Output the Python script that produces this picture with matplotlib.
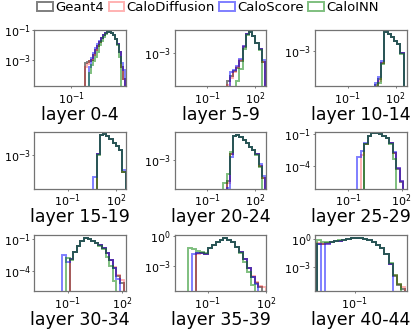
import numpy as np
import matplotlib
matplotlib.use("Agg")
import matplotlib.pyplot as plt
from matplotlib.ticker import NullLocator

nan = np.nan

layers = ["layer 0-4", "layer 5-9", "layer 10-14",
          "layer 15-19", "layer 20-24", "layer 25-29",
          "layer 30-34", "layer 35-39", "layer 40-44"]
models = ["Geant4", "CaloDiffusion", "CaloScore", "CaloINN"]

# log10 of the first bin edge and log10 bin width, per layer group
bin_start = [-0.3, 0.2, 0.7, 0.6, 0.0, -0.5, -1.3, -2.0, -2.8]
bin_width = [0.1, 0.2, 0.2, 0.2, 0.2, 0.2, 0.2, 0.2, 0.2]

# log10 of normalised counts per bin (nan = empty bin)
geant4 = [
    [-3.2, -3.15, -3.1, -3.0, -2.7, -2.35, -2.05, -1.8, -1.55, -1.35, -1.22, -1.12, -1.1, -1.2, -1.35, -1.6, -1.95, -2.5, -3.5, -4.3],
    [-4.6, -4.3, -4.0, -3.85, -3.45, -2.65, -1.95, -1.8, -2.05, -2.45, -2.8, -3.5],
    [-4.8, -4.5, -3.6, -1.95, -2.05, -2.25, -2.45, -2.6, -3.1],
    [nan, -2.9, -1.85, -1.8, -1.95, -2.1, -2.3, -2.5, -2.7, -3.9],
    [nan, -4.2, -2.6, -1.55, -1.5, -1.62, -1.8, -2.0, -2.2, -2.4, -2.65, -3.3, -4.0],
    [nan, nan, -2.0, -1.2, -0.95, -0.95, -1.05, -1.2, -1.45, -1.9, -2.8, -4.3, -5.5],
    [nan, nan, -2.9, -2.3, -1.7, -1.2, -0.92, -1.05, -1.2, -1.45, -1.6, -1.9, -2.4, -3.0, -3.8, -4.5, -5.2],
    [nan, nan, -1.75, -1.7, -1.8, -1.25, -0.9, -0.6, -0.4, -0.25, -0.4, -0.65, -1.1, -1.6, -2.3, -3.2, -4.1, -4.8, -5.2, nan],
    [-0.6, -0.5, -0.45, -0.35, -0.27, -0.2, -0.1, -0.03, 0.05, 0.1, 0.08, 0.0, -0.12, -0.35, -0.65, -1.0, -1.6, -2.7, -3.9, -4.9, -5.3],
]
calo_diffusion = [
    [-3.5, -3.3, -3.1, -3.0, -2.7, -2.35, -2.05, -1.8, -1.55, -1.35, -1.22, -1.12, -1.1, -1.2, -1.35, -1.6, -1.95, -2.5, -3.5, -4.3],
    [-4.8, -4.4, -4.1, -3.8, -3.4, -2.6, -1.95, -1.8, -2.05, -2.45, -2.8, -3.5],
    [nan, -4.6, -3.6, -1.95, -2.05, -2.25, -2.45, -2.6, -3.1],
    [nan, -2.9, -1.85, -1.8, -1.95, -2.1, -2.3, -2.5, -2.7, -3.9],
    [nan, -4.3, -2.6, -1.55, -1.5, -1.62, -1.8, -2.0, -2.2, -2.4, -2.65, -3.3, -4.0],
    [nan, -3.0, -2.0, -1.2, -0.95, -0.95, -1.05, -1.2, -1.45, -1.9, -2.8, -4.2, -5.4],
    [nan, nan, -2.9, -2.3, -1.7, -1.2, -0.92, -1.05, -1.2, -1.45, -1.6, -1.9, -2.4, -3.0, -3.7, -4.4, -4.9],
    [nan, nan, -1.8, -1.7, -1.8, -1.25, -0.9, -0.6, -0.4, -0.25, -0.4, -0.65, -1.1, -1.6, -2.3, -3.2, -4.0, -4.7, -5.1, -5.2],
    [-0.45, -0.6, -0.5, -0.35, -0.27, -0.2, -0.1, -0.03, 0.05, 0.1, 0.08, 0.0, -0.12, -0.35, -0.65, -1.0, -1.6, -2.7, -3.8, -4.8, -5.1],
]
calo_score = [
    [nan, nan, -3.5, -2.9, -2.55, -2.2, -1.95, -1.7, -1.5, -1.3, -1.2, -1.1, -1.1, -1.2, -1.35, -1.6, -1.95, -2.45, -3.2, -3.7],
    [nan, -4.1, -3.95, -3.75, -3.35, -2.6, -1.95, -1.8, -2.05, -2.45, -2.8, -3.4],
    [-4.7, -4.4, -3.5, -1.95, -2.05, -2.25, -2.45, -2.6, -3.1],
    [-4.2, -2.9, -1.85, -1.8, -1.95, -2.1, -2.3, -2.5, -2.7, -3.8],
    [nan, -4.6, -2.8, -1.55, -1.5, -1.62, -1.8, -2.0, -2.2, -2.4, -2.65, -3.2, -3.9],
    [-3.2, -2.6, -1.9, -1.2, -0.95, -0.95, -1.05, -1.2, -1.45, -1.9, -2.7, -4.2, -5.4],
    [-2.5, -3.2, -2.9, -2.3, -1.7, -1.2, -0.92, -1.05, -1.2, -1.45, -1.6, -1.9, -2.4, -3.0, -3.8, -4.8, nan],
    [nan, -1.8, -1.75, -1.7, -1.8, -1.25, -0.9, -0.6, -0.4, -0.25, -0.4, -0.65, -1.1, -1.6, -2.3, -3.2, -4.1, -4.9, nan, nan],
    [-0.5, nan, -0.5, -0.35, -0.27, -0.2, -0.1, -0.03, 0.05, 0.1, 0.08, 0.0, -0.12, -0.35, -0.65, -1.0, -1.6, -2.7, nan, nan, nan],
]
calo_inn = [
    [nan, nan, -3.9, -3.4, -3.1, -2.8, -2.45, -2.0, -1.7, -1.45, -1.25, -1.12, -1.1, -1.2, -1.35, -1.6, -2.0, -2.8, nan, nan],
    [nan, nan, nan, -4.6, -3.9, -2.8, -2.0, -1.8, -2.05, -2.45, -2.85, nan],
    [nan, -4.7, -3.7, -1.95, -2.05, -2.25, -2.45, -2.6, -3.15],
    [nan, -3.0, -1.85, -1.8, -1.95, -2.1, -2.3, -2.5, -2.7, -3.9],
    [-4.3, -3.8, -2.5, -1.55, -1.5, -1.62, -1.8, -2.0, -2.2, -2.4, -2.7, -3.4, nan],
    [nan, nan, -2.0, -1.2, -0.95, -0.95, -1.05, -1.2, -1.45, -2.0, -3.3, nan, nan],
    [nan, -2.8, -3.0, -2.3, -1.7, -1.2, -0.92, -1.05, -1.2, -1.45, -1.65, -2.0, -2.7, -3.6, -5.0, nan, nan],
    [-1.25, -1.3, -1.5, -1.6, -1.7, -1.25, -0.9, -0.6, -0.4, -0.25, -0.4, -0.65, -1.1, -1.7, -2.6, -3.6, -5.0, nan, nan, nan],
    [-0.07, -0.3, -0.35, -0.3, -0.22, -0.15, -0.08, -0.03, 0.05, 0.1, 0.08, 0.0, -0.12, -0.35, -0.65, -1.0, -1.6, -2.6, -3.8, -4.8, nan],
]
all_series = [geant4, calo_diffusion, calo_score, calo_inn]

# axis ranges and ticks (log10)
x_range = [(-2.87, 1.75), (-3.04, 2.69), (-3.04, 2.69), (-3.09, 2.64), (-3.04, 2.69),
           (-2.87, 2.28), (-2.86, 2.24), (-2.71, 2.01), (-2.9, 1.46)]
y_range = [(-4.83, -0.95), (-4.9, -1.68), (-4.88, -1.83), (-4.85, -1.71), (-4.66, -1.34),
           (-6.1, -0.86), (-5.97, -0.62), (-5.6, 0.1), (-5.6, 0.46)]
x_ticks = [[-1], [-1, 2], [-1, 2], [-1, 2], [-1, 2], [-1, 2], [-1, 2], [-1, 2], [-1]]
y_ticks = [[-1, -3], [-3], [-3], [-3], [-3], [-1, -4], [-1, -4], [0, -3], [0, -3]]

colors = ["black", "red", "blue", "green"]
alphas = [0.5, 0.3, 0.5, 0.5]

fig, axes = plt.subplots(3, 3, figsize=(4.16, 3.30), dpi=100)
fig.subplots_adjust(left=0.0825, right=0.9776, top=0.9106, bottom=0.1167,
                    wspace=0.527, hspace=0.8)

for k, ax in enumerate(axes.flat):
    ax.set_xscale("log")
    ax.set_yscale("log")
    for s, series in enumerate(all_series):
        vals = np.asarray(series[k], dtype=float)
        n = len(vals)
        edges = np.logspace(bin_start[k], bin_start[k] + bin_width[k] * n, n + 1)
        centers = np.sqrt(edges[:-1] * edges[1:])
        dens = np.nan_to_num(10.0 ** vals, nan=0.0)
        ax.hist(centers, bins=edges, weights=dens, histtype="step",
                color=colors[s], alpha=alphas[s], lw=1.4, label=models[s])
    ax.set_xlim(10.0 ** x_range[k][0], 10.0 ** x_range[k][1])
    ax.set_ylim(10.0 ** y_range[k][0], 10.0 ** y_range[k][1])
    ax.set_xticks([10.0 ** t for t in x_ticks[k]])
    ax.set_yticks([10.0 ** t for t in y_ticks[k]])
    ax.xaxis.set_minor_locator(NullLocator())
    ax.yaxis.set_minor_locator(NullLocator())
    ax.tick_params(labelsize=8, length=1.5, pad=1.0, width=0.6, color="0.4")
    for sp in ax.spines.values():
        sp.set_color("0.45")
        sp.set_linewidth(0.9)
    ax.set_xlabel(layers[k], fontsize=12.5, labelpad=-0.5)

handles, labels = axes[0, 0].get_legend_handles_labels()
fig.legend(handles, labels, loc="upper center", bbox_to_anchor=(0.5, 1.02), ncol=4,
           frameon=False, fontsize=9.5, handlelength=1.2, handletextpad=0.15,
           columnspacing=0.35, borderpad=0.1)

fig.savefig("out.png", dpi=100)
